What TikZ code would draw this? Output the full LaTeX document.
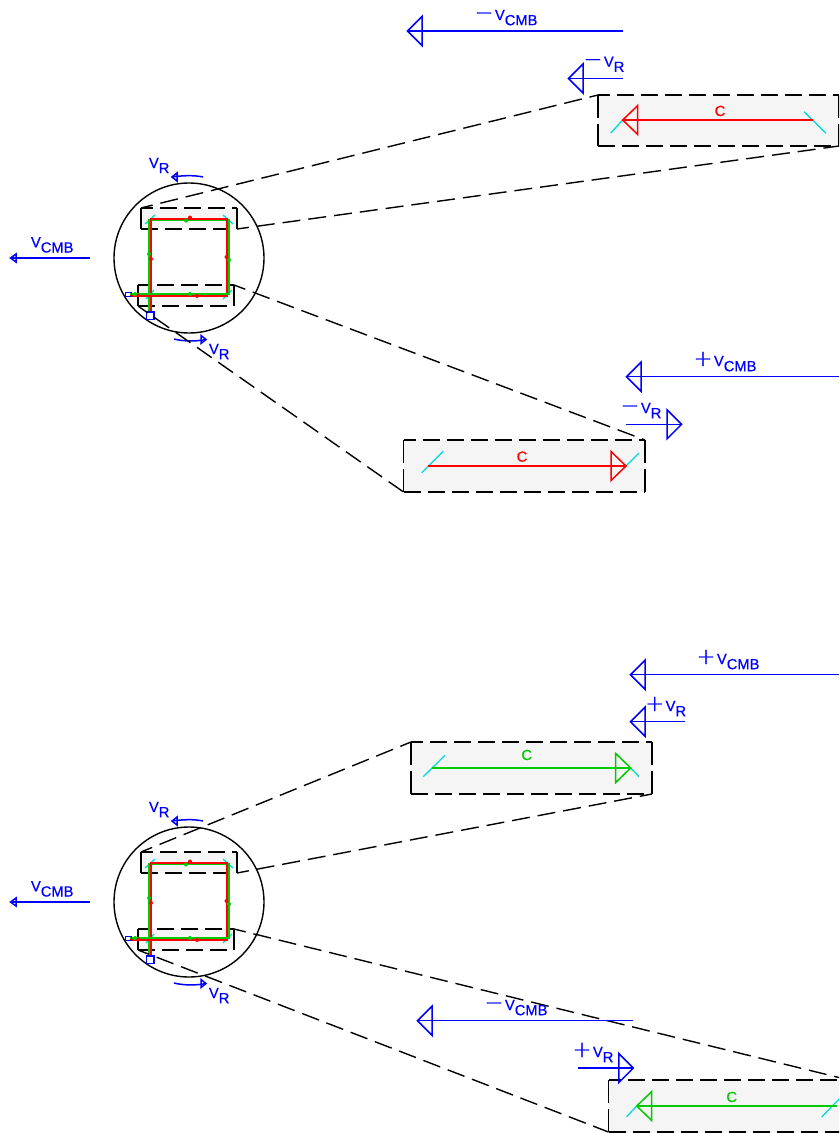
\documentclass[tikz,border=0pt]{standalone}
\usepackage{fontspec}
\setmainfont{Liberation Sans}[FakeBold=0.6]
\newfontfamily\lblf{Liberation Sans}[FakeBold=0.6]
\newfontfamily\signf{DejaVu Sans ExtraLight}[FakeBold=0.8]
\definecolor{blu}{RGB}{0,0,255}
\definecolor{rd}{RGB}{255,0,0}
\definecolor{grn}{RGB}{0,204,0}
\definecolor{cyn}{RGB}{0,221,221}
\definecolor{panel}{RGB}{245,245,245}
\newcommand{\mainsz}{\lblf\fontsize{14.7}{16}\selectfont}
\newcommand{\sgn}[1]{{\signf\fontsize{22.4}{24}\selectfont #1}\kern1.6pt}
\newcommand{\vsub}[1]{V\raisebox{-5.2pt}{#1}}
\newcommand{\headat}[4]{\draw[#1] (#2) -- ++(#3,-#4) -- ++(0,2*#4) -- cycle;}
\tikzset{
  x=1pt,y=-1pt,
  txt/.style={inner sep=0pt,outer sep=0pt,anchor=base west,text=blu,font=\mainsz},
  ctxt/.style={inner sep=0pt,outer sep=0pt,anchor=base,font=\mainsz},
  bl/.style={draw=blu,line width=1.5pt,line join=miter},
  rline/.style={draw=rd,line width=1.5pt},
  gline/.style={draw=grn,line width=1.5pt},
  mirror/.style={draw=cyn,line width=1.3pt},
  dsh/.style={draw=black,line width=1.4pt,dash pattern=on 18pt off 8pt,dash phase=6pt},
  dtop/.style={draw=black,line width=1.4pt,dash pattern=on 17pt off 7pt,dash phase=5pt},
  dbot/.style={draw=black,line width=1.4pt,dash pattern=on 17pt off 7pt},
  dside/.style={draw=black,line width=1.4pt,dash pattern=on 22.5pt off 6.5pt},
  edge/.style={draw=black,line width=1.4pt},
  panelfill/.style={fill=panel,draw=none},
  rloop/.style={draw=rd,line width=2pt,line join=miter},
  gloop/.style={draw=grn,line width=2pt,line join=miter},
  ring/.style={draw=black,line width=1.4pt,circle,minimum size=150pt,inner sep=0pt,outer sep=0pt},
  rdot/.style={fill=rd,draw=none,circle,minimum size=4pt,inner sep=0pt},
  gdot/.style={fill=grn,draw=none,circle,minimum size=4pt,inner sep=0pt},
  port/.style={draw=blu,line width=1.5pt,fill=none,inner sep=0pt},
}
\begin{document}
\begin{tikzpicture}
\path[use as bounding box] (0,0) rectangle (839,1133);
\clip (0,0) rectangle (839,1133);

% big panels
\foreach \n/\xa/\ya/\xb/\yb in {A/598/95/839/146, B/403.5/440/645/492, C/411/742/652/794, D/608.5/1080/849/1132}{
  \coordinate (\n tl) at (\xa,\ya);
  \coordinate (\n tr) at (\xb,\ya);
  \coordinate (\n bl) at (\xa,\yb);
  \coordinate (\n br) at (\xb,\yb);
  \fill[panelfill] (\n tl) rectangle (\n br);
  \draw[dtop] (\n tl) -- (\n tr);
  \draw[dbot] (\n bl) -- (\n br);
  \draw[dside] (\n tl) -- (\n bl);
  \draw[dside] (\n tr) -- (\n br);
}

% the two small interferometers
\foreach \p/\dy/\ta/\tb/\ba/\bb in {P/0/Atl/Abr/Btr/Bbl, Q/644/Ctl/Cbr/Dtr/Dbl}{
\begin{scope}[shift={(0,\dy)}]
  \coordinate (\p atl) at (141,208);
  \coordinate (\p atr) at (237,208);
  \coordinate (\p abl) at (141,229);
  \coordinate (\p abr) at (237,229);
  \coordinate (\p btl) at (138,285);
  \coordinate (\p btr) at (234,285);
  \coordinate (\p bbl) at (138,306);
  \coordinate (\p bbr) at (234,306);
  \fill[panelfill] (\p atl) rectangle (\p abr);
  \fill[panelfill] (\p btl) rectangle (\p bbr);
  \draw[edge] (\p atl) -- (\p abl);
  \draw[edge] (\p atr) -- (\p abr);
  \draw[edge] (\p btl) -- (\p bbl);
  \draw[edge] (\p btr) -- (\p bbr);
  \draw[dtop] (\p atl) -- (\p atr);
  \draw[dbot] (\p abl) -- (\p abr);
  \draw[dtop] (\p btl) -- (\p btr);
  \draw[dbot] (\p bbl) -- (\p bbr);
  \node[ring] (\p ring) at (189,258) {};
  % mirrors
  \coordinate (\p m1a) at (145,224); \coordinate (\p m1b) at (155,215);
  \coordinate (\p m2a) at (223,215); \coordinate (\p m2b) at (233,224);
  \coordinate (\p m3a) at (223,299); \coordinate (\p m3b) at (232,290);
  \coordinate (\p m4a) at (146,299); \coordinate (\p m4b) at (154,290);
  \draw[mirror] (\p m1a) -- (\p m1b);
  \draw[mirror] (\p m2a) -- (\p m2b);
  \draw[mirror] (\p m3a) -- (\p m3b);
  \draw[mirror] (\p m4a) -- (\p m4b);
  % light paths
  \coordinate (\p g0) at (130,294);
  \coordinate (\p g1) at (228.7,294);
  \coordinate (\p g2) at (228.7,220);
  \coordinate (\p g3) at (149,220);
  \coordinate (\p g4) at (149,312);
  \draw[gloop] (\p g0) -- (\p g1) -- (\p g2) -- (\p g3) -- (\p g4);
  \coordinate (\p r0) at (130,295.5);
  \coordinate (\p r1) at (227.3,295.5);
  \coordinate (\p r2) at (227.3,218.7);
  \coordinate (\p r3) at (150.7,218.7);
  \coordinate (\p r4) at (150.7,313);
  \draw[rloop] (\p r0) -- (\p r1) -- (\p r2) -- (\p r3) -- (\p r4);
  \draw[gloop] (\p g0) -- (\p g1);
  \node[rdot] (\p d1) at (190,217.5) {};
  \node[rdot] (\p d2) at (151,259) {};
  \node[rdot] (\p d3) at (226.5,257) {};
  \node[rdot] (\p d4) at (197,296) {};
  \node[rdot] (\p d5) at (138,295.5) {};
  \node[gdot] (\p e1) at (186,220.5) {};
  \node[gdot] (\p e2) at (149,254) {};
  \node[gdot] (\p e3) at (229,260) {};
  \node[gdot] (\p e4) at (190,294) {};
  \node[gdot] (\p e5) at (135,294) {};
  % ports
  \node[port,minimum width=6pt,minimum height=3.6pt] (\p s1) at (128.5,294.5) {};
  \node[port,minimum width=7.5pt,minimum height=7.5pt] (\p s2) at (150,315.5) {};
  % v_CMB small
  \coordinate (\p vs) at (90,258);
  \coordinate (\p vt) at (10.5,258);
  \draw[bl] (\p vs) -- (\p vt);
  \headat{bl}{\p vt}{5.5}{4}
  \node[txt] (\p vl) at (31,247.3) {\vsub{CMB}};
  % rotation arrows
  \coordinate (\p ua) at (203,177);
  \coordinate (\p ub) at (172,177);
  \draw[bl] (\p ua) .. controls (194,175) and (182,175.5) .. (\p ub);
  \headat{bl}{\p ub}{5}{4}
  \node[txt] (\p ul) at (149,168) {\vsub{R}};
  \coordinate (\p wa) at (174,339);
  \coordinate (\p wb) at (206,339.5);
  \draw[bl] (\p wa) .. controls (184,341.5) and (196,341.5) .. (\p wb);
  \headat{bl}{\p wb}{-5}{4}
  \node[txt] (\p wl) at (209,354) {\vsub{R}};
\end{scope}
\draw[dsh] (\p atl) -- (\ta);
\draw[dsh] (\p abr) -- (\tb);
\draw[dsh] (\p btr) -- (\ba);
\draw[dsh] (\p bbl) -- (\bb);
}

% panel A (red, leftward)
\coordinate (Art) at (622.7,120); \coordinate (Ars) at (812.7,120);
\coordinate (Am1) at (610.7,133); \coordinate (Am2) at (804,111.7); \coordinate (Am3) at (826,133.3);
\draw[mirror] (Am1) -- (Art);
\draw[mirror] (Am2) -- (Am3);
\draw[rline] (Ars) -- (Art);
\headat{rline}{Art}{15}{14.5}
\node[ctxt,text=rd] (Ac) at (720,116) {C};

% panel B (red, rightward)
\coordinate (Brs) at (428,466); \coordinate (Brt) at (626,466);
\coordinate (Bm1) at (421.7,472.7); \coordinate (Bm2) at (443.3,451.3); \coordinate (Bm3) at (639,453);
\draw[mirror] (Bm1) -- (Bm2);
\draw[mirror] (Brt) -- (Bm3);
\draw[rline] (Brs) -- (Brt);
\headat{rline}{Brt}{-15}{14.5}
\node[ctxt,text=rd] (Bc) at (522,461.7) {C};

% panel C (green, rightward)
\coordinate (Crs) at (431.7,768); \coordinate (Crt) at (630.7,768);
\coordinate (Cm1) at (423.3,776.7); \coordinate (Cm2) at (445,755.3); \coordinate (Cm3) at (639,776.7);
\draw[mirror] (Cm1) -- (Cm2);
\draw[mirror] (Crt) -- (Cm3);
\draw[gline] (Crs) -- (Crt);
\headat{gline}{Crt}{-15}{14.5}
\node[ctxt,text=grn] (Cc) at (526.7,760) {C};

% panel D (green, leftward)
\coordinate (Drt) at (636.7,1106); \coordinate (Drs) at (836.7,1106);
\coordinate (Dm1) at (626.7,1116.7); \coordinate (Dm2) at (821.7,1117); \coordinate (Dm3) at (843,1095);
\draw[mirror] (Dm1) -- (Drt);
\draw[mirror] (Dm2) -- (Dm3);
\draw[gline] (Drs) -- (Drt);
\headat{gline}{Drt}{15}{14.5}
\node[ctxt,text=grn] (Dc) at (731.7,1102) {C};

% large blue arrows
\coordinate (a1s) at (623,31); \coordinate (a1t) at (407.5,31);
\draw[bl] (a1s) -- (a1t); \headat{bl}{a1t}{14.5}{14.5}
\node[txt] (a1l) at (474.6,20) {\sgn{−}\vsub{CMB}};

\coordinate (a2s) at (623,78.5); \coordinate (a2t) at (568.5,78.5);
\draw[bl] (a2s) -- (a2t); \headat{bl}{a2t}{14.5}{14.5}
\node[txt] (a2l) at (583.6,66.7) {\sgn{−}\vsub{R}};

\coordinate (a3s) at (839,376.7); \coordinate (a3t) at (626.5,376.7);
\draw[bl] (a3s) -- (a3t); \headat{bl}{a3t}{14.5}{14.5}
\node[txt] (a3l) at (693.6,366) {\sgn{+}\vsub{CMB}};

\coordinate (a4s) at (626,424.3); \coordinate (a4t) at (681.5,424.3);
\draw[bl] (a4s) -- (a4t); \headat{bl}{a4t}{-14.5}{14.5}
\node[txt] (a4l) at (620.6,413) {\sgn{−}\vsub{R}};

\coordinate (a5s) at (839,674.7); \coordinate (a5t) at (630.5,674.7);
\draw[bl] (a5s) -- (a5t); \headat{bl}{a5t}{14.5}{14.5}
\node[txt] (a5l) at (696.6,664) {\sgn{+}\vsub{CMB}};

\coordinate (a6s) at (685,721.7); \coordinate (a6t) at (630.5,721.7);
\draw[bl] (a6s) -- (a6t); \headat{bl}{a6t}{14.5}{14.5}
\node[txt] (a6l) at (645.3,711) {\sgn{+}\vsub{R}};

\coordinate (a7s) at (633.3,1020.7); \coordinate (a7t) at (417.5,1020.7);
\draw[bl] (a7s) -- (a7t); \headat{bl}{a7t}{14.5}{14.5}
\node[txt] (a7l) at (484.6,1010) {\sgn{−}\vsub{CMB}};

\coordinate (a8s) at (577.7,1068); \coordinate (a8t) at (633.3,1068);
\draw[bl] (a8s) -- (a8t); \headat{bl}{a8t}{-14.5}{14.5}
\node[txt] (a8l) at (572.6,1057) {\sgn{+}\vsub{R}};
\end{tikzpicture}
\end{document}
